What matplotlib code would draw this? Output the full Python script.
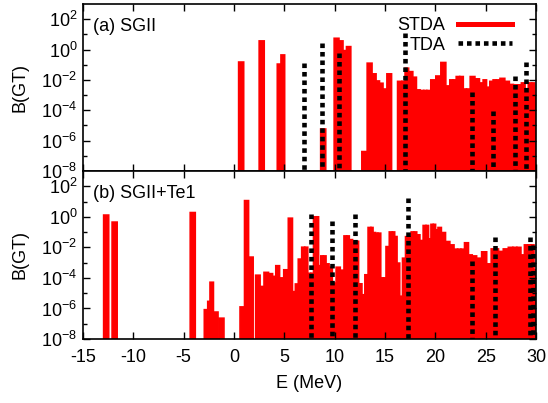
import numpy as np
import matplotlib

matplotlib.use("Agg")
import matplotlib.pyplot as plt
from matplotlib.lines import Line2D
from matplotlib.ticker import FixedLocator, FuncFormatter

plt.rcParams["font.family"] = ["Liberation Sans", "DejaVu Sans"]
plt.rcParams["mathtext.fontset"] = "custom"
plt.rcParams["mathtext.rm"] = "Liberation Sans"
plt.rcParams["axes.unicode_minus"] = False

# (a) SGII -- STDA strengths
sgii_stda_e = [0.71, 2.75, 4.55, 4.78, 8.86, 10.2, 10.65, 11.0, 11.35, 12.95,
               13.48, 13.94, 14.28, 14.62, 14.98, 15.4, 16.5, 16.85, 17.14, 17.55,
               17.97, 18.27, 18.7, 19.0, 19.3, 19.8, 20.3, 20.8, 21.28, 21.6,
               21.9, 22.25, 22.6, 22.95, 23.25, 23.68, 24.18, 24.58, 24.92, 25.25,
               25.58, 25.9, 26.2, 26.65, 27.15, 27.55, 27.95, 28.35, 28.75, 29.07,
               29.4, 29.75, 30.0]
sgii_stda_b = [0.15, 3.7, 0.11, 0.44, 5.8e-6, 5.5, 3.7, 0.85, 1.55, 1.9e-7,
               0.126, 0.025, 8.5e-3, 6.0e-3, 2.5e-3, 0.025, 8e-3, 8e-3, 0.059, 0.035,
               0.015, 2.2e-3, 2.0e-3, 2.0e-3, 2.0e-3, 0.01, 0.018, 0.14, 4e-3, 0.01,
               0.01, 0.0166, 0.0166, 2.5e-3, 2.5e-3, 0.0166, 0.0117, 6.3e-3, 0.01, 3.3e-3,
               8e-3, 0.01, 0.01, 0.0126, 8e-3, 5e-3, 4.7e-3, 4.7e-3, 6.3e-3, 2.5e-3,
               6.3e-3, 6.3e-3, 1e-3]
# (a) SGII -- TDA strengths
sgii_tda_e = [6.98, 8.77, 10.42, 16.95, 23.6, 25.74, 27.9, 29.0]
sgii_tda_b = [0.126, 2.8, 0.63, 12.0, 1.7e-3, 9.1e-5, 0.018, 0.16]

# (b) SGII+Te1 -- STDA strengths
te1_stda_e = [-12.7, -11.86, -4.1, -2.7, -2.52, -2.25, -1.84, -1.25, 0.85, 1.24,
              1.65, 2.4, 2.78, 3.18, 3.68, 3.98, 4.32, 4.73, 5.15, 5.64,
              5.97, 6.22, 6.55, 6.9, 7.15, 7.5, 7.75, 8.05, 8.3, 8.5,
              8.75, 9.0, 9.28, 9.6, 9.93, 10.36, 10.75, 11.1, 11.3, 11.6,
              11.95, 12.2, 12.55, 12.86, 13.14, 13.5, 13.7, 13.92, 14.2, 14.4,
              14.75, 14.95, 15.25, 15.6, 15.85, 16.07, 16.32, 16.6, 16.88, 17.2,
              17.45, 17.75, 18.0, 18.3, 18.63, 18.95, 19.2, 19.45, 19.68, 19.92,
              20.13, 20.4, 20.8, 21.22, 21.66, 22.05, 22.38, 22.7, 23.1, 23.48,
              23.85, 24.35, 24.85, 25.35, 25.75, 26.05, 26.5, 27.0, 27.5, 27.9,
              28.3, 28.7, 29.0, 29.35, 29.65, 29.95]
te1_stda_b = [1.3, 0.45, 1.9, 8.3e-7, 2.9e-6, 5.2e-5, 5.8e-7, 2.3e-7, 1.26e-6, 11.5,
              2.3e-3, 1.5e-4, 2.75e-5, 2.3e-4, 1.9e-4, 1.26e-4, 6.3e-4, 1e-4, 3.4e-4, 0.81,
              1.26e-5, 4e-5, 1.7e-3, 0.0102, 0.0102, 2.0e-4, 2.0e-4, 1.0, 1.0, 6.3e-4,
              2.75e-3, 2.75e-3, 8.3e-4, 5e-4, 4.6e-5, 5e-4, 3.2e-4, 0.056, 0.056, 0.032,
              0.025, 0.025, 4.1e-5, 7.9e-6, 1.6e-4, 0.2, 0.2, 0.093, 0.085, 0.085,
              1e-4, 1e-4, 0.0112, 0.102, 0.102, 0.051, 9.3e-4, 6.3e-6, 1.95e-3, 0.05,
              0.05, 0.102, 0.102, 0.066, 0.028, 0.27, 0.27, 0.036, 0.32, 0.32,
              0.14, 0.2, 0.093, 0.024, 0.0145, 7.6e-3, 7.6e-3, 7.6e-3, 0.02, 3.2e-3,
              2.75e-3, 1.95e-3, 5.1e-3, 8.3e-4, 7.9e-3, 7.9e-3, 5.4e-3, 7.9e-3, 0.01, 0.01,
              0.01, 3.2e-3, 0.0145, 0.0145, 0.0145, 3.4e-4]
# (b) SGII+Te1 -- TDA strengths
te1_tda_e = [7.61, 9.73, 12.0, 17.31, 23.67, 25.92, 29.4, 29.66]
te1_tda_b = [1.55, 0.56, 1.55, 17.4, 1.3e-3, 0.051, 0.051, 0.0145]

xticks = [-15, -10, -5, 0, 5, 10, 15, 20, 25, 30]
major_exp = [-8, -6, -4, -2, 0, 2]
minor_exp = [-7, -5, -3, -1, 1]

FLOOR = 1e-10
FS = 13


def box_geometry(energies, half=0.25):
    # boxes touch their neighbours, isolated ones get a fixed width
    e = np.asarray(energies, dtype=float)
    mid = (e[1:] + e[:-1]) / 2
    left = np.maximum(e - half, np.r_[-np.inf, mid])
    right = np.minimum(e + half, np.r_[mid, np.inf])
    return left, right - left


def draw_panel(ax, stda_e, stda_b, tda_e, tda_b, label):
    left, width = box_geometry(stda_e)
    bars = ax.bar(left, stda_b, width=width, bottom=FLOOR, align="edge",
                  color="#ff0000", edgecolor="#ff0000", linewidth=1.2, zorder=1)
    for patch in bars:
        patch.set_snap(False)
    ax.vlines(tda_e, tda_b, FLOOR, colors="black", linewidth=3.3,
              linestyles=(0, (1.0, 0.85)), capstyle="butt", zorder=2)
    ax.set_yscale("log")
    ax.set_xlim(-15, 30)
    ax.set_ylim(1e-8, 1e3)
    ax.xaxis.set_major_locator(FixedLocator(xticks))
    ax.yaxis.set_major_locator(FixedLocator([10.0 ** k for k in major_exp]))
    ax.yaxis.set_minor_locator(FixedLocator([10.0 ** k for k in minor_exp]))
    ax.yaxis.set_major_formatter(FuncFormatter(
        lambda v, pos: r"$\mathregular{10^{%d}}$" % round(np.log10(v))))
    ax.yaxis.set_minor_formatter(FuncFormatter(lambda v, pos: ""))
    ax.tick_params(which="both", direction="in", top=True, right=True,
                   labelsize=FS, width=1.0, color="black")
    ax.tick_params(which="major", length=5)
    ax.tick_params(which="minor", length=3.2)
    ax.tick_params(axis="x", pad=7)
    ax.tick_params(axis="y", pad=4)
    for spine in ax.spines.values():
        spine.set_linewidth(1.2)
        spine.set_zorder(5)
    ax.set_ylabel("B(GT)", fontsize=FS)
    ax.yaxis.set_label_coords(-0.121, 0.5)
    ax.text(0.022, 0.868, label, transform=ax.transAxes, fontsize=FS,
            ha="left", va="center")


fig = plt.figure(figsize=(5.48, 4.03), dpi=100)
fig.patch.set_facecolor("white")
ax_top = fig.add_axes([0.1515, 0.5757, 0.8266, 0.4144])
ax_bot = fig.add_axes([0.1515, 0.1588, 0.8266, 0.4169])

draw_panel(ax_top, sgii_stda_e, sgii_stda_b, sgii_tda_e, sgii_tda_b, "(a) SGII")
draw_panel(ax_bot, te1_stda_e, te1_stda_b, te1_tda_e, te1_tda_b, "(b) SGII+Te1")
ax_top.tick_params(axis="x", labelbottom=False)
ax_bot.set_xlabel("E (MeV)", fontsize=FS, labelpad=7)

handles = [Line2D([], [], color="#ff0000", linewidth=3.6),
           Line2D([], [], color="black", linewidth=3.3, linestyle=(0, (1.0, 0.85)))]
ax_top.legend(handles, ["STDA", "TDA"], loc="upper right",
              bbox_to_anchor=(0.947, 0.92), frameon=False, markerfirst=False,
              fontsize=FS, handlelength=3.0, handletextpad=0.7,
              labelspacing=0.12, borderpad=0, borderaxespad=0)

fig.savefig("out.png", dpi=100)
plt.close(fig)
